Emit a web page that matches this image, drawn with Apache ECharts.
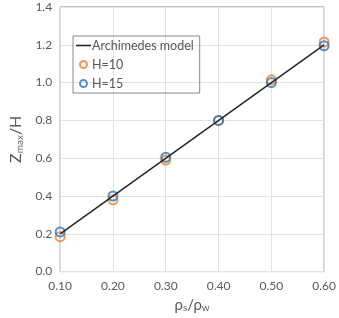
<!DOCTYPE html>
<html>
<head>
<meta charset="utf-8">
<style>
  html, body { margin:0; padding:0; background:#fff; }
  #main { width:339px; height:318px; }
</style>
</head>
<body>
<div id="main"></div>
<script src="https://cdn.jsdelivr.net/npm/echarts@6/dist/echarts.min.js"></script>
<script>
// density ratio on x
var ratios = [0.10, 0.20, 0.30, 0.40, 0.50, 0.60];
// Z_max / H values
var h10 = [0.185, 0.38, 0.59, 0.80, 1.015, 1.215];
var h15 = [0.21, 0.40, 0.605, 0.80, 1.00, 1.195];
// Archimedes model line end points
var modelX = [0.10, 0.60];
var modelY = [0.20, 1.20];

function pairs(xs, ys) {
  return xs.map(function (x, i) { return [x, ys[i]]; });
}

var font = 'Lato';
var textGrey = '#595959';

var chart = echarts.init(document.getElementById('main'));
chart.setOption({
  animation: false,
  textStyle: { fontFamily: font },
  grid: {
    left: 49, right: 12, top: 7, bottom: 44,
    show: true, borderColor: '#8a8a8a', borderWidth: 1
  },
  legend: {
    orient: 'vertical',
    left: 73, top: 36,
    borderColor: '#8a8a8a', borderWidth: 1,
    padding: [3, 6, 3, 3],
    itemWidth: 15, itemHeight: 7, itemGap: 6,
    textStyle: { fontFamily: font, fontSize: 12.5, color: textGrey, padding: [0, 0, 0, -4] },
    data: [
      { name: 'Archimedes model', icon: 'path://M0,0H15V1.6H0Z', itemStyle: { color: '#262626' } },
      { name: 'H=10', icon: 'circle' },
      { name: 'H=15', icon: 'circle' }
    ]
  },
  xAxis: {
    type: 'value', min: 0.1, max: 0.6, interval: 0.1,
    name: '{a|ρ}{b|s}{a|/ρ}{b|w}',
    nameLocation: 'middle', nameGap: 22,
    nameTextStyle: {
      color: textGrey,
      rich: {
        a: { fontFamily: font, fontSize: 15, color: textGrey },
        b: { fontFamily: font, fontSize: 10, color: textGrey, verticalAlign: 'bottom', padding: [6, 0, 0, 0] }
      }
    },
    axisLine: { show: false },
    axisTick: { show: false },
    axisLabel: {
      color: textGrey, fontSize: 12, margin: 9,
      formatter: function (v) { return v.toFixed(2); }
    },
    splitLine: { show: true, lineStyle: { color: '#e3e3e3' } }
  },
  yAxis: {
    type: 'value', min: 0, max: 1.4, interval: 0.2,
    name: '{a|Z}{b|max}{a|/H}',
    nameLocation: 'middle', nameGap: 31, nameRotate: 90,
    nameTextStyle: {
      color: textGrey,
      rich: {
        a: { fontFamily: font, fontSize: 16, color: textGrey },
        b: { fontFamily: font, fontSize: 10, color: textGrey, verticalAlign: 'bottom', padding: [7, 0, 0, 0] }
      }
    },
    axisLine: { show: false },
    axisTick: { show: false },
    axisLabel: {
      color: textGrey, fontSize: 12, margin: 8,
      formatter: function (v) { return v.toFixed(1); }
    },
    splitLine: { show: true, lineStyle: { color: '#e3e3e3' } }
  },
  series: [
    {
      name: 'Archimedes model', type: 'line',
      data: pairs(modelX, modelY),
      showSymbol: false, symbol: 'none',
      lineStyle: { color: '#262626', width: 1.5 },
      itemStyle: { color: '#262626' }
    },
    {
      name: 'H=10', type: 'scatter',
      data: pairs(ratios, h10),
      symbol: 'circle', symbolSize: 9,
      itemStyle: { color: 'rgba(0,0,0,0)', borderColor: '#ED7D31', borderWidth: 2 }
    },
    {
      name: 'H=15', type: 'scatter',
      data: pairs(ratios, h15),
      symbol: 'circle', symbolSize: 9,
      itemStyle: { color: 'rgba(0,0,0,0)', borderColor: '#2E75B6', borderWidth: 2 }
    }
  ]
});
</script>
</body>
</html>
